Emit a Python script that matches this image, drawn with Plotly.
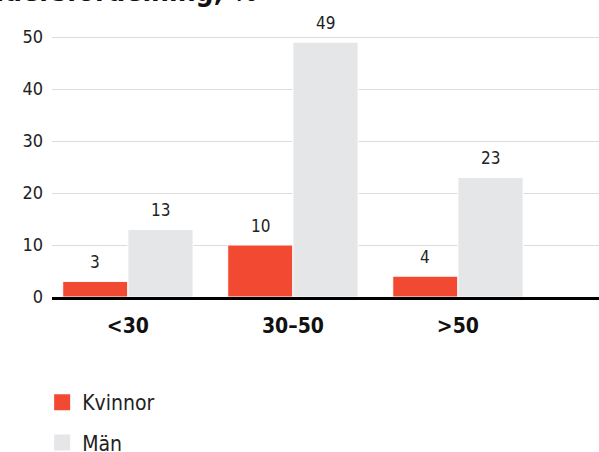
import plotly.graph_objects as go

categories = ["<30", "30–50", ">50"]
kvinnor = [3, 10, 4]
man = [13, 49, 23]
series_names = ["Kvinnor", "Män"]
title_text = "Åldersfördelning, %"
y_ticks = [0, 10, 20, 30, 40, 50]

RED = "#F24A32"
GREY = "#E5E6E8"
FONT = "Tahoma, 'DejaVu Sans Condensed', 'DejaVu Sans', sans-serif"

fig = go.Figure()
for name, vals, col in [(series_names[0], kvinnor, RED), (series_names[1], man, GREY)]:
    fig.add_trace(go.Bar(x=categories, y=vals, name=name, marker=dict(color=col, line=dict(color="white", width=1)),
                         showlegend=False))
    fig.add_trace(go.Scatter(x=[None], y=[None], mode="markers", name=name,
                             marker=dict(symbol="square", size=16, color=col), legendgroup=name))

ann = []
W = 0.79 / 2
for i, c in enumerate(categories):
    for j, vals in enumerate([kvinnor, man]):
        ann.append(dict(x=i + (j - 0.5) * W, y=vals[i], xref="x", yref="y", text=str(vals[i]),
                        showarrow=False, yanchor="bottom", yshift=7,
                        font=dict(size=17, color="#222", family=FONT)))
ann.append(dict(x=0, y=1, xref="paper", yref="paper", xanchor="left", yanchor="bottom", xshift=-78, yshift=10,
                text="<b>" + title_text + "</b>", showarrow=False,
                font=dict(size=28, color="#111", family=FONT)))

fig.update_layout(
    width=599, height=452,
    margin=dict(l=52, r=0, t=20, b=155, autoexpand=False),
    paper_bgcolor="white", plot_bgcolor="white",
    barmode="group", bargap=0.21, bargroupgap=0,
    font=dict(family=FONT, color="#222"),
    annotations=ann,
    legend=dict(x=-0.018, y=-0.307, xanchor="left", yanchor="top", orientation="v",
                font=dict(size=21, color="#222", family=FONT), traceorder="grouped", tracegroupgap=10,
                itemclick=False),
    xaxis=dict(type="category", range=[-0.46, 2.855], showgrid=False, ticks="", automargin=False,
               showline=True, linecolor="#000", linewidth=3, layer="above traces",
               tickfont=dict(size=21, color="#111", family=FONT), ticklabelstandoff=8,
               tickvals=categories, ticktext=["<b>" + c + "</b>" for c in categories]),
    yaxis=dict(range=[0, 53.27], tickvals=y_ticks, showgrid=True, gridcolor="#DCDCDC", gridwidth=1,
               zeroline=False, automargin=False,
               tickfont=dict(size=18, color="#222", family=FONT), ticklabelstandoff=8),
)
fig.write_html("out.html", config={"displayModeBar": False},
               post_script="document.body.style.margin='0';document.body.style.overflow='hidden';")
